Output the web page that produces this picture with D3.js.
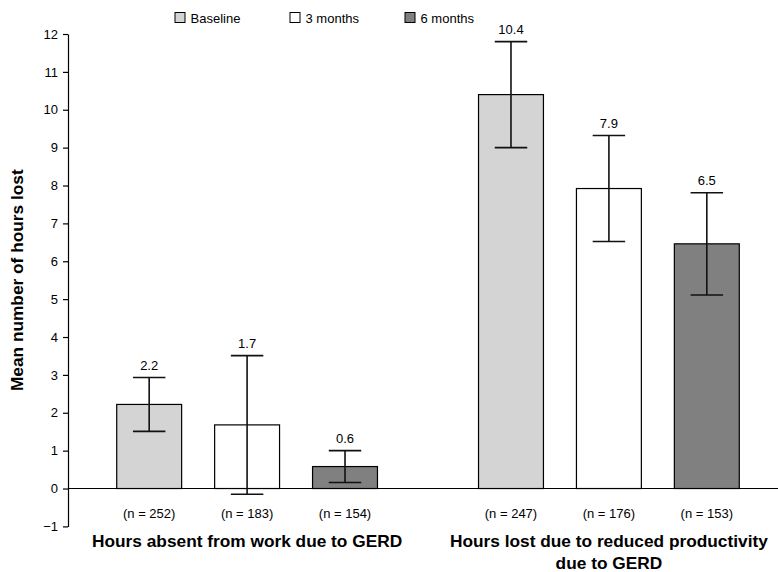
<!DOCTYPE html>
<html>
<head>
<meta charset="utf-8">
<script src="https://cdn.jsdelivr.net/npm/d3@7"></script>
<style>
  html, body { margin: 0; padding: 0; background: #fff; }
  svg { display: block; }
  text { font-family: "Liberation Sans", Arial, sans-serif; fill: #000; }
</style>
</head>
<body>
<svg id="chart" width="778" height="572"></svg>
<script>
// ---- data ----
const groups = ["absent", "productivity"];
const groupLabels = [["Hours absent from work due to GERD"], ["Hours lost due to reduced productivity", "due to GERD"]];
const series = ["Baseline", "3 months", "6 months"];
const seriesColors = ["#d4d4d4", "#ffffff", "#808080"];
const absentMeans = [2.22, 1.68, 0.58];
const absentErr = [0.71, 1.83, 0.42];
const absentN = [252, 183, 154];
const productivityMeans = [10.4, 7.92, 6.46];
const productivityErr = [1.4, 1.4, 1.35];
const productivityN = [247, 176, 153];
const yTicks = [-1, 0, 1, 2, 3, 4, 5, 6, 7, 8, 9, 10, 11, 12];
const yTitle = "Mean number of hours lost";

const table = [];
[[absentMeans, absentErr, absentN], [productivityMeans, productivityErr, productivityN]].forEach((arr, gi) => {
  series.forEach((s, si) => {
    table.push({ group: groups[gi], series: s, si, value: arr[0][si], err: arr[1][si], n: arr[2][si] });
  });
});

// ---- layout ----
const svg = d3.select("#chart");
const axisX = 68;
const y = d3.scaleLinear().domain([-1, 12]).range([526.4, 34]);
const x0 = d3.scaleBand().domain(groups).range([axisX, 788]).paddingInner(0.19).paddingOuter(0.09);
const x1 = d3.scaleBand().domain(series).range([0, x0.bandwidth()]).paddingInner(0.337).paddingOuter(0.165);
const color = d3.scaleOrdinal().domain(series).range(seriesColors);

// bars
const bx = d => x0(d.group) + x1(d.series);
const cx = d => bx(d) + x1.bandwidth() / 2;

svg.append("g").selectAll("rect").data(table).join("rect")
  .attr("x", d => bx(d))
  .attr("y", d => y(Math.max(0, d.value)))
  .attr("width", x1.bandwidth())
  .attr("height", d => Math.abs(y(d.value) - y(0)))
  .attr("fill", d => color(d.series))
  .attr("stroke", "#000")
  .attr("stroke-width", 1.2);

// zero line
svg.append("line")
  .attr("x1", axisX).attr("x2", 778)
  .attr("y1", y(0)).attr("y2", y(0))
  .attr("stroke", "#000").attr("stroke-width", 1.2);

// error bars
const capW = x1.bandwidth() / 2;
const eb = svg.append("g").attr("stroke", "#111").attr("stroke-width", 1.6);
eb.selectAll("line.v").data(table).join("line").attr("class", "v")
  .attr("x1", cx).attr("x2", cx)
  .attr("y1", d => y(d.value + d.err)).attr("y2", d => y(d.value - d.err));
eb.selectAll("line.t").data(table).join("line").attr("class", "t")
  .attr("x1", d => cx(d) - capW / 2).attr("x2", d => cx(d) + capW / 2)
  .attr("y1", d => y(d.value + d.err)).attr("y2", d => y(d.value + d.err));
eb.selectAll("line.b").data(table).join("line").attr("class", "b")
  .attr("x1", d => cx(d) - capW / 2).attr("x2", d => cx(d) + capW / 2)
  .attr("y1", d => y(d.value - d.err)).attr("y2", d => y(d.value - d.err));

// value labels
const fmt = d3.format(".1f");
svg.append("g").selectAll("text").data(table).join("text")
  .attr("x", cx)
  .attr("y", d => y(d.value + d.err) - 8)
  .attr("text-anchor", "middle")
  .style("font-size", "13px")
  .text(d => fmt(d.value));

// n labels
svg.append("g").selectAll("text").data(table).join("text")
  .attr("x", cx)
  .attr("y", 518)
  .attr("text-anchor", "middle")
  .style("font-size", "13px")
  .text(d => `(n = ${d.n})`);

// group labels
groups.forEach((g, gi) => {
  const t = svg.append("text")
    .attr("x", x0(g) + x0.bandwidth() / 2)
    .attr("y", 547)
    .attr("text-anchor", "middle")
    .style("font-size", "17.3px")
    .style("font-weight", "bold");
  groupLabels[gi].forEach((line, li) => {
    t.append("tspan").attr("x", x0(g) + x0.bandwidth() / 2).attr("dy", li === 0 ? 0 : 22).text(line);
  });
});

// y axis
const yAxis = d3.axisLeft(y).tickValues(yTicks).tickSize(5).tickPadding(5).tickSizeOuter(0).tickFormat(d3.format("d"));
const ga = svg.append("g").attr("transform", `translate(${axisX},0)`).call(yAxis);
ga.selectAll("path, line").attr("stroke", "#000").attr("stroke-width", 1.2);
ga.selectAll("text").style("font-size", "13px").style("font-family", "'Liberation Sans', Arial, sans-serif").attr("fill", "#000");

// y title
svg.append("text")
  .attr("transform", `translate(23, ${(y(12) + y(-1)) / 2}) rotate(-90)`)
  .attr("text-anchor", "middle")
  .style("font-size", "17.3px")
  .style("font-weight", "bold")
  .text(yTitle);

// legend
const lg = svg.append("g").selectAll("g").data(series).join("g")
  .attr("transform", (d, i) => `translate(${175 + i * 115}, 12.5)`);
lg.append("rect").attr("width", 10).attr("height", 10)
  .attr("fill", d => color(d)).attr("stroke", "#000").attr("stroke-width", 1);
lg.append("text").attr("x", 15.5).attr("y", 10).style("font-size", "13px").text(d => d);
</script>
</body>
</html>
